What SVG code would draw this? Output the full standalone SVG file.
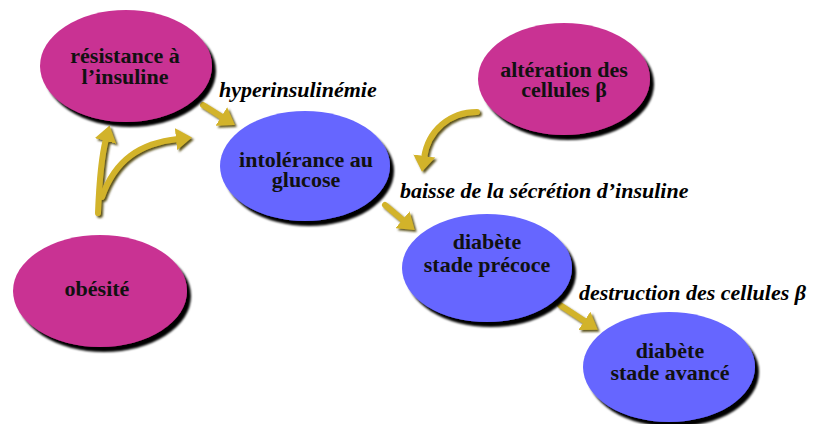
<svg xmlns="http://www.w3.org/2000/svg" width="813" height="424" viewBox="0 0 813 424">
  <style>
    .node-m { fill: #C93393; }
    .node-b { fill: #6666FF; }
    .nt { font-weight: bold; font-size: 22px; fill: #111; text-anchor: middle; }
    .lbl { font-weight: bold; font-style: italic; font-size: 22px; fill: #000; }
    .arr { fill: none; stroke: #D2B32A; stroke-width: 6; stroke-linecap: round; }
  </style>
  <defs>
    <filter id="sh" x="-10%" y="-10%" width="125%" height="130%">
      <feDropShadow dx="4" dy="5" stdDeviation="1.2" flood-color="#000" flood-opacity="1"/>
    </filter>
    <filter id="ash" x="-30%" y="-30%" width="160%" height="160%">
      <feDropShadow dx="2" dy="2" stdDeviation="0.8" flood-color="#4a3c00" flood-opacity="0.9"/>
    </filter>
    <marker id="ah" markerUnits="userSpaceOnUse" markerWidth="16" markerHeight="22" refX="2" refY="11" orient="auto" viewBox="0 0 16 22">
      <path d="M0,0 L16,11 L0,22 z" fill="#D2B32A"/>
    </marker>
  </defs>
  <rect width="813" height="424" fill="#fff"/>

  <g id="connectors" filter="url(#ash)">
    <path class="arr" d="M203,105 L223,117.6" marker-end="url(#ah)"/>
    <path class="arr" d="M98,213 Q100,162 106,139" marker-end="url(#ah)"/>
    <path class="arr" d="M102,197 C115,160 140,143 178,139" marker-end="url(#ah)"/>
    <path class="arr" d="M477,112 C450,112 428,130 424,158" marker-end="url(#ah)"/>
    <path class="arr" d="M385,205 L404,221" marker-end="url(#ah)"/>
    <path class="arr" d="M560,305 L586,322" marker-end="url(#ah)"/>
  </g>

  <g font-family="'Liberation Serif', 'Times New Roman', Times, serif">
  <g id="resistance">
    <ellipse class="node-m" cx="126" cy="66" rx="86" ry="56" filter="url(#sh)"/>
    <text class="nt" x="125" y="63">résistance à</text>
    <text class="nt" x="125" y="84">l’insuline</text>
  </g>
  <g id="intolerance">
    <ellipse class="node-b" cx="305" cy="166" rx="85" ry="55" filter="url(#sh)"/>
    <text class="nt" x="306" y="167">intolérance au</text>
    <text class="nt" x="306" y="187">glucose</text>
  </g>
  <g id="alteration">
    <ellipse class="node-m" cx="564" cy="79" rx="86" ry="56" filter="url(#sh)"/>
    <text class="nt" x="564" y="77">altération des</text>
    <text class="nt" x="564" y="97">cellules β</text>
  </g>
  <g id="obesite">
    <ellipse class="node-m" cx="100" cy="291" rx="87" ry="56" filter="url(#sh)"/>
    <text class="nt" x="97" y="296">obésité</text>
  </g>
  <g id="precoce">
    <ellipse class="node-b" cx="487" cy="268" rx="85" ry="54" filter="url(#sh)"/>
    <text class="nt" x="487" y="249">diabète</text>
    <text class="nt" x="487" y="272">stade précoce</text>
  </g>
  <g id="avance">
    <ellipse class="node-b" cx="669" cy="367" rx="86" ry="55" filter="url(#sh)"/>
    <text class="nt" x="670" y="358">diabète</text>
    <text class="nt" x="670" y="380">stade avancé</text>
  </g>

  <g id="labels">
    <text class="lbl" x="219" y="97">hyperinsulinémie</text>
    <text class="lbl" x="400" y="198">baisse de la sécrétion d’insuline</text>
    <text class="lbl" x="579" y="300">destruction des cellules β</text>
  </g>
  </g>
</svg>
